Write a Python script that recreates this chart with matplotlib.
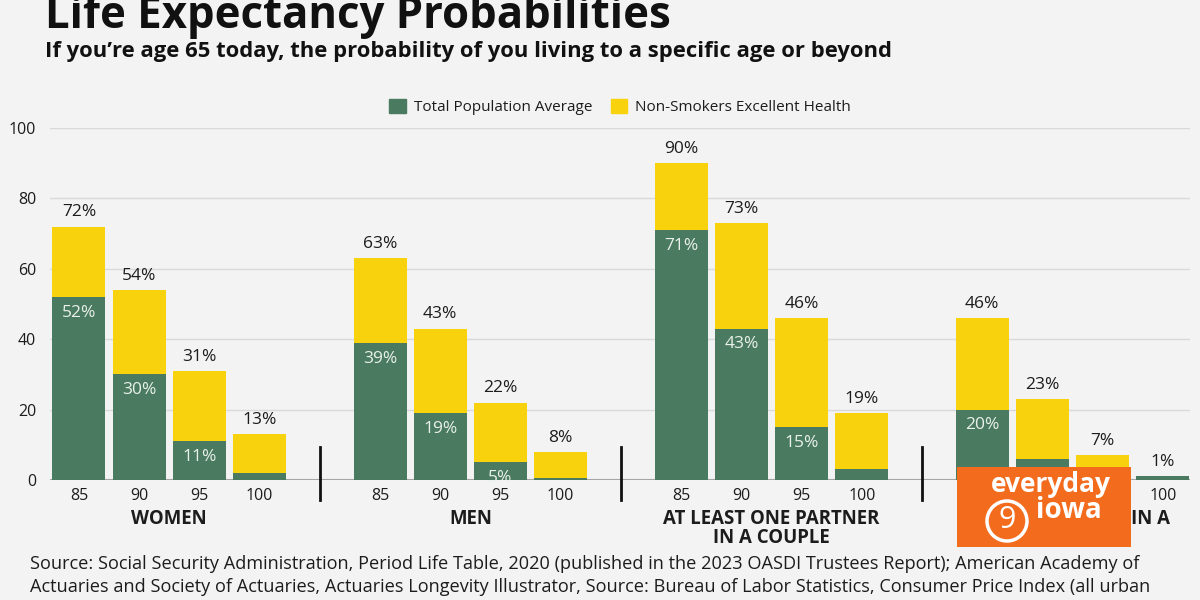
import matplotlib
matplotlib.use("Agg")
import matplotlib.pyplot as plt
from matplotlib.patches import Circle

plt.rcParams['font.family'] = ['Open Sans', 'DejaVu Sans']

# data
ages = ['85', '90', '95', '100']
groups = ['WOMEN', 'MEN', 'AT LEAST ONE PARTNER\nIN A COUPLE', 'BOTH PARTNERS IN A\nCOUPLE']
total_pop = [[52, 30, 11, 2], [39, 19, 5, 0.5], [71, 43, 15, 3], [20, 6, 1, 1]]
non_smokers = [[72, 54, 31, 13], [63, 43, 22, 8], [90, 73, 46, 19], [46, 23, 7, 1]]

green = '#4a7a60'
yellow = '#f8d20c'
bg = '#f3f3f3'
txt = '#1c1c1c'

fig = plt.figure(figsize=(12, 6), dpi=100, facecolor=bg)
ax = fig.add_axes([50/1200, 120/600, 1140/1200, 352/600])
ax.set_facecolor('none')
ax.set_xlim(-0.48, 18.45)
ax.set_ylim(0, 100)

for s in ax.spines.values():
    s.set_visible(False)
ax.set_yticks(range(0, 101, 20))
ax.yaxis.grid(True, color='#d9d9d9', lw=1)
ax.set_axisbelow(True)
ax.axhline(0, color='#a5a5a5', lw=1.5, zorder=1)

xs, xl = [], []
for g in range(len(groups)):
    pos = [g*5 + i for i in range(len(ages))]
    ax.bar(pos, non_smokers[g], width=0.88, color=yellow, zorder=2)
    ax.bar(pos, total_pop[g], width=0.88, color=green, zorder=3)
    for p, t, v in zip(pos, total_pop[g], non_smokers[g]):
        ax.text(p, v + 1.8, f'{v}%', ha='center', va='bottom', fontsize=12.5, color=txt, zorder=4)
        if t >= 5:
            ax.text(p, t - 4.5, f'{t}%', ha='center', va='center', fontsize=12.5,
                    color='#e9f1ea', zorder=4)
    xs += pos
    xl += ages
    ax.text(g*5 + 1.5, -8.2, groups[g], ha='center', va='top', fontsize=13.4,
            fontweight='bold', color=txt, linespacing=0.95, clip_on=False)
    if g > 0:
        ax.plot([g*5 - 1, g*5 - 1], [9.4, -5.7], color='#111111', lw=2, clip_on=False)

ax.set_xticks(xs)
ax.set_xticklabels(xl)
ax.tick_params(axis='x', length=0, pad=6, labelsize=11.5, labelcolor=txt)
ax.tick_params(axis='y', length=0, pad=10, labelsize=11.5, labelcolor=txt)

# titles
fig.text(45/1200, 1 - 28/600, 'Life Expectancy Probabilities', fontsize=31.5, fontweight='bold',
         color='#111111', va='baseline')
fig.text(45/1200, 1 - 57/600,
         'If you\u2019re age 65 today, the probability of you living to a specific age or beyond',
         fontsize=15.8, fontweight='bold', color='#111111', va='baseline')

# legend
leg = ax.legend(handles=[plt.Rectangle((0, 0), 1, 1, color=green),
                         plt.Rectangle((0, 0), 1, 1, color=yellow)],
                labels=['Total Population Average', 'Non-Smokers Excellent Health'],
                ncol=2, frameon=False, fontsize=11, loc='center',
                bbox_to_anchor=(620/1200, 1 - 107/600), bbox_transform=fig.transFigure,
                handlelength=1.1, handleheight=1.1, handletextpad=0.5, columnspacing=1.2)
for t in leg.get_texts():
    t.set_color(txt)

# source
src = ['Source: Social Security Administration, Period Life Table, 2020 (published in the 2023 OASDI Trustees Report); American Academy of',
       'Actuaries and Society of Actuaries, Actuaries Longevity Illustrator, Source: Bureau of Labor Statistics, Consumer Price Index (all urban',
       'consumers, seasonally adjusted), J.P. Morgan Asset Management, (accessed January 2024).']
for i, line in enumerate(src):
    fig.text(30/1200, 1 - (564 + 23*i)/600, line, fontsize=13.1, color=txt, va='center')

# station logo
lg = fig.add_axes([957/1200, 53/600, 174/1200, 80/600])
lg.set_facecolor('#f36c1e')
lg.set_xticks([])
lg.set_yticks([])
for s in lg.spines.values():
    s.set_visible(False)
lg.set_xlim(0, 174)
lg.set_ylim(0, 80)
lg.text(94, 62, 'everyday', ha='center', va='center', fontsize=19, fontweight='bold', color='white')
lg.text(112, 36, 'iowa', ha='center', va='center', fontsize=20, fontweight='bold', color='white')
lg.add_patch(Circle((50, 26), 20, fc='none', ec='white', lw=2.5))
lg.text(50, 27, '9', ha='center', va='center', fontsize=22, color='white')

fig.savefig('out.png', dpi=100, facecolor=bg)
